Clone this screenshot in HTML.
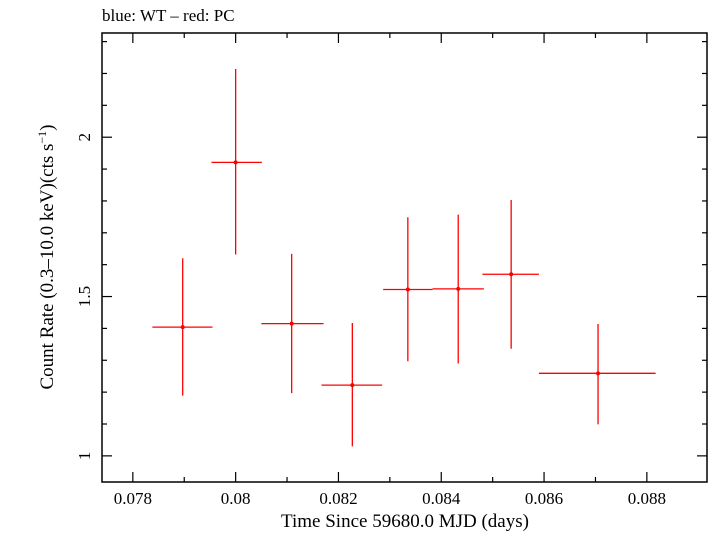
<!DOCTYPE html>
<html><head><meta charset="utf-8"><style>
body{margin:0;background:#fff;}
svg text{font-family:"Liberation Serif",serif;fill:#000;}
</style></head><body>
<svg id="chart" width="709" height="532" xmlns="http://www.w3.org/2000/svg">
<text x="102" y="21" font-size="17">blue: WT – red: PC</text>
<g id="axes"></g>
<g id="marks"></g>
<text x="405" y="527" font-size="19" text-anchor="middle">Time Since 59680.0 MJD (days)</text>
<text transform="translate(53,257) rotate(-90)" font-size="19" text-anchor="middle">Count Rate (0.3–10.0 keV)(cts s<tspan dy="-7" font-size="12">−1</tspan><tspan dy="7">)</tspan></text>
</svg>
<script>
const xCenters=[0.07897,0.0800,0.08109,0.08227,0.08335,0.08433,0.08536,0.08705];
const xLo=[0.07838,0.07953,0.08050,0.08167,0.08287,0.08383,0.08480,0.08590];
const xHi=[0.07955,0.08051,0.08171,0.08285,0.08383,0.08483,0.08590,0.08817];
const yVals=[1.404,1.921,1.415,1.222,1.522,1.524,1.570,1.259];
const yHiErr=[1.620,2.214,1.634,1.417,1.749,1.757,1.803,1.414];
const yLoErr=[1.189,1.632,1.197,1.030,1.297,1.290,1.336,1.099];
const xTickLabels=["0.078","0.08","0.082","0.084","0.086","0.088"];
const xTickVals=[0.078,0.080,0.082,0.084,0.086,0.088];
const yTickLabels=["1","1.5","2"];
const yTickVals=[1,1.5,2];

const L=102,R=707,T=33,B=482;
const X0=0.0774,X1=0.08917,Y0=0.918,Y1=2.327;
const sx=v=>L+(v-X0)/(X1-X0)*(R-L);
const sy=v=>B-(v-Y0)/(Y1-Y0)*(B-T);
const NS="http://www.w3.org/2000/svg";
function mk(tag,attrs,parent){const e=document.createElementNS(NS,tag);for(const k in attrs)e.setAttribute(k,attrs[k]);parent.appendChild(e);return e;}
const axes=document.getElementById('axes'),marks=document.getElementById('marks');
const frame=mk('rect',{x:L,y:T,width:R-L,height:B-T,fill:'none',stroke:'#000','stroke-width':1.5},axes);


for(let i=0;i<=11;i++){const v=0.077+i*0.001;const x=sx(v);if(x<L||x>R)continue;
 const major=Math.round(v*1e6)%2000===0;const len=major?10:5;
 const t1=mk('line',{x1:x,x2:x,y1:B,y2:B-len,stroke:'#000','stroke-width':1.2},axes);
 
 
 const t2=mk('line',{x1:x,x2:x,y1:T,y2:T+len,stroke:'#000','stroke-width':1.2},axes);
 
 }
xTickVals.forEach((v,i)=>{const t=mk('text',{x:sx(v),y:504,'font-size':17,'text-anchor':'middle'},axes);t.textContent=xTickLabels[i];
 
 });
for(let i=0;i<=15;i++){const v=0.9+i*0.1;const y=sy(v);if(y<T||y>B)continue;
 const major=Math.abs(v*2-Math.round(v*2))<1e-6;const len=major?10:5;
 const t1=mk('line',{x1:L,x2:L+len,y1:y,y2:y,stroke:'#000','stroke-width':1.2},axes);
 
 
 const t2=mk('line',{x1:R,x2:R-len,y1:y,y2:y,stroke:'#000','stroke-width':1.2},axes);
 
 }
yTickVals.forEach((v,i)=>{const y=sy(v);const t=mk('text',{transform:`translate(90,${y}) rotate(-90)`,'font-size':17,'text-anchor':'middle'},axes);t.textContent=yTickLabels[i];
 
 });
xCenters.forEach((xc,i)=>{
 const g=mk('g',{},marks);
 
 
 mk('line',{x1:sx(xLo[i]),x2:sx(xHi[i]),y1:sy(yVals[i]),y2:sy(yVals[i]),stroke:'#f00','stroke-width':1.3},g);
 mk('line',{x1:sx(xc),x2:sx(xc),y1:sy(yHiErr[i]),y2:sy(yLoErr[i]),stroke:'#f00','stroke-width':1.3},g);
 mk('circle',{cx:sx(xc),cy:sy(yVals[i]),r:2,fill:'#f00'},g);
});
</script>
</body></html>
